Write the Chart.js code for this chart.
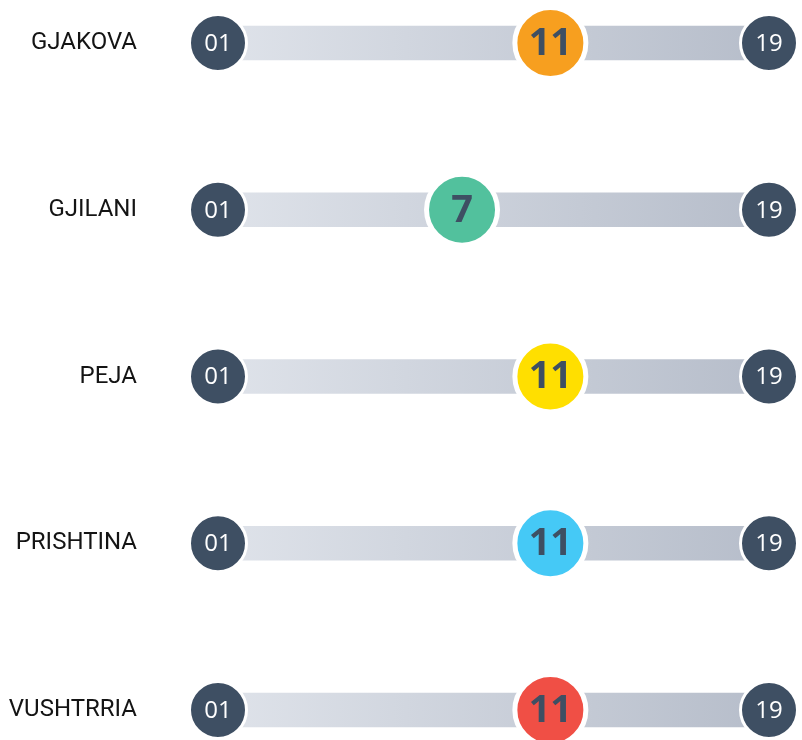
<!DOCTYPE html>
<html lang="en">

<head>
    <meta charset="UTF-8">
    <title>Rankings</title>
    <style>
        body {
            margin: 0;
            padding: 0;
            background: #fff;
        }

        .chart-container {
            position: relative;
            width: 802px;
            height: 740px;
        }
    </style>
</head>

<body>
    <div class="chart-container">
        <canvas id="rankChart"></canvas>
    </div>

    <script src="https://cdn.jsdelivr.net/npm/chart.js"></script>
    <script>
        // data
        const cities = ["GJAKOVA", "GJILANI", "PEJA", "PRISHTINA", "VUSHTRRIA"];
        const ranks = [11, 7, 11, 11, 11];
        const markerColors = ["#f79f1f", "#52c19d", "#ffdf00", "#45c9f6", "#f04f45"];
        const rangeLabels = ["01", "19"];

        const axisMin = -4.05;
        const axisMax = 20.9;
        const darkBlue = "#3e4f63";

        const labelPlugin = {
            id: "circleLabels",
            afterDatasetsDraw(chart) {
                const ctx = chart.ctx;
                const x = chart.scales.x;
                const y = chart.scales.y;
                ctx.save();
                ctx.textAlign = "center";
                ctx.textBaseline = "middle";
                cities.forEach((city, i) => {
                    const py = y.getPixelForValue(i);
                    ctx.fillStyle = "#fff";
                    ctx.font = "24px 'Open Sans'";
                    ctx.fillText(rangeLabels[0], x.getPixelForValue(axisMin), py + 1);
                    ctx.fillText(rangeLabels[1], x.getPixelForValue(axisMax), py + 1);
                    ctx.fillStyle = darkBlue;
                    ctx.font = "bold 38px 'Open Sans'";
                    ctx.fillText(String(ranks[i]), x.getPixelForValue(ranks[i]), py + 1);
                });
                ctx.restore();
            }
        };

        function trackGradient(context) {
            const area = context.chart.chartArea;
            if (!area) return "#ccd2db";
            const g = context.chart.ctx.createLinearGradient(area.left, 0, area.right, 0);
            g.addColorStop(0, "#dfe3ea");
            g.addColorStop(1, "#b6bdca");
            return g;
        }

        new Chart(document.getElementById("rankChart"), {
            type: "bar",
            data: {
                labels: cities,
                datasets: [{
                    type: "scatter",
                    order: 1,
                    data: cities.map((c, i) => ({ x: ranks[i], y: c })),
                    pointRadius: 35.5,
                    pointBackgroundColor: markerColors,
                    pointBorderColor: "#fff",
                    pointBorderWidth: 5,
                    clip: false
                },
                {
                    type: "scatter",
                    order: 2,
                    data: cities.flatMap((c) => [{ x: axisMin, y: c }, { x: axisMax, y: c }]),
                    pointRadius: 28.5,
                    pointBackgroundColor: darkBlue,
                    pointBorderColor: "#fff",
                    pointBorderWidth: 3,
                    clip: false
                },
                {
                    type: "bar",
                    order: 3,
                    data: cities.map(() => [axisMin, axisMax]),
                    backgroundColor: trackGradient,
                    borderWidth: 0,
                    borderSkipped: false,
                    barThickness: 34,
                    clip: false
                }]
            },
            options: {
                indexAxis: "y",
                responsive: true,
                maintainAspectRatio: false,
                animation: false,
                events: [],
                layout: {
                    autoPadding: false,
                    padding: { top: 43, bottom: 30, right: 33, left: 0 }
                },
                scales: {
                    x: {
                        type: "linear",
                        min: axisMin,
                        max: axisMax,
                        offset: false,
                        display: false
                    },
                    y: {
                        type: "category",
                        labels: cities,
                        offset: false,
                        grid: { display: false, drawTicks: false },
                        border: { display: false },
                        ticks: {
                            padding: 81,
                            color: "#141414",
                            font: { family: "Roboto", size: 24 }
                        },
                        afterFit(scale) {
                            scale.width = 218;
                            scale.paddingTop = 0;
                            scale.paddingBottom = 0;
                        }
                    }
                },
                plugins: {
                    legend: { display: false },
                    tooltip: { enabled: false }
                }
            },
            plugins: [labelPlugin]
        });
    </script>
</body>

</html>
